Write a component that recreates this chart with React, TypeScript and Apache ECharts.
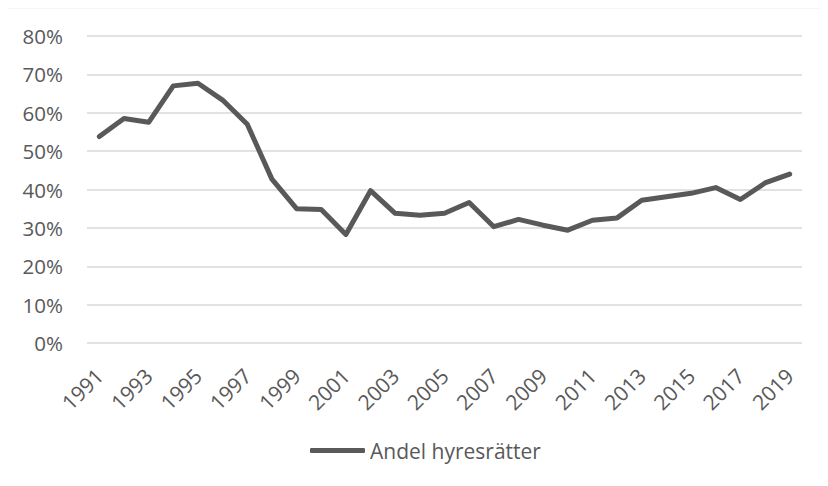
import React, { useEffect, useRef } from "react";
import * as echarts from "echarts";

const years = [
  "1991","1992","1993","1994","1995","1996","1997","1998","1999","2000",
  "2001","2002","2003","2004","2005","2006","2007","2008","2009","2010",
  "2011","2012","2013","2014","2015","2016","2017","2018","2019",
];
const seriesName = "Andel hyresrätter";
const shares = [
  53.8, 58.5, 57.5, 67.0, 67.7, 63.3, 57.0, 42.7, 35.0, 34.8,
  28.3, 39.7, 33.8, 33.3, 33.8, 36.6, 30.3, 32.2, 30.7, 29.4,
  32.0, 32.6, 37.2, 38.1, 39.0, 40.5, 37.4, 41.7, 44.0,
];
const yTicks = [0, 10, 20, 30, 40, 50, 60, 70, 80];

export default function App() {
  const ref = useRef<HTMLDivElement>(null);
  useEffect(() => {
    if (!ref.current) return;
    const chart = echarts.init(ref.current, undefined, { renderer: "svg" });
    const font = "'Open Sans', 'Liberation Sans', Arial, sans-serif";
    chart.setOption({
      animation: false,
      backgroundColor: "#ffffff",
      textStyle: { fontFamily: font },
      graphic: [
        {
          type: "rect",
          shape: { x: 5.5, y: 7.5, width: 840, height: 500 },
          style: { fill: "none", stroke: "#d9d9d9", lineWidth: 1.5 },
          silent: true,
        },
      ],
      grid: { left: 87, right: 26, top: 36, bottom: 143, containLabel: false },
      xAxis: {
        type: "category",
        data: years,
        boundaryGap: true,
        axisLine: { show: false },
        axisTick: { show: false },
        axisLabel: {
          interval: 1,
          rotate: 45,
          margin: 29,
          color: "#595959",
          fontSize: 21,
          fontFamily: font,
        },
      },
      yAxis: {
        type: "value",
        min: yTicks[0],
        max: yTicks[yTicks.length - 1],
        interval: 10,
        axisLine: { show: false },
        axisTick: { show: false },
        splitLine: { lineStyle: { color: "#d9d9d9", width: 1.5 } },
        axisLabel: {
          formatter: (v: number) => `${v}%`,
          margin: 24,
          color: "#595959",
          fontSize: 20.5,
          fontFamily: font,
        },
      },
      legend: {
        top: 440,
        left: 310,
        padding: 0,
        data: [{ name: seriesName, icon: "roundRect" }],
        itemWidth: 55,
        itemHeight: 5,
        textStyle: { color: "#595959", fontSize: 21, fontFamily: font },
      },
      series: [
        {
          name: seriesName,
          type: "line",
          data: shares,
          showSymbol: false,
          symbol: "none",
          color: "#595959",
          lineStyle: { color: "#595959", width: 5, cap: "round", join: "round" },
        },
      ],
    });
    return () => chart.dispose();
  }, []);
  return <div ref={ref} style={{ width: 828, height: 486, margin: -8 }} />;
}
